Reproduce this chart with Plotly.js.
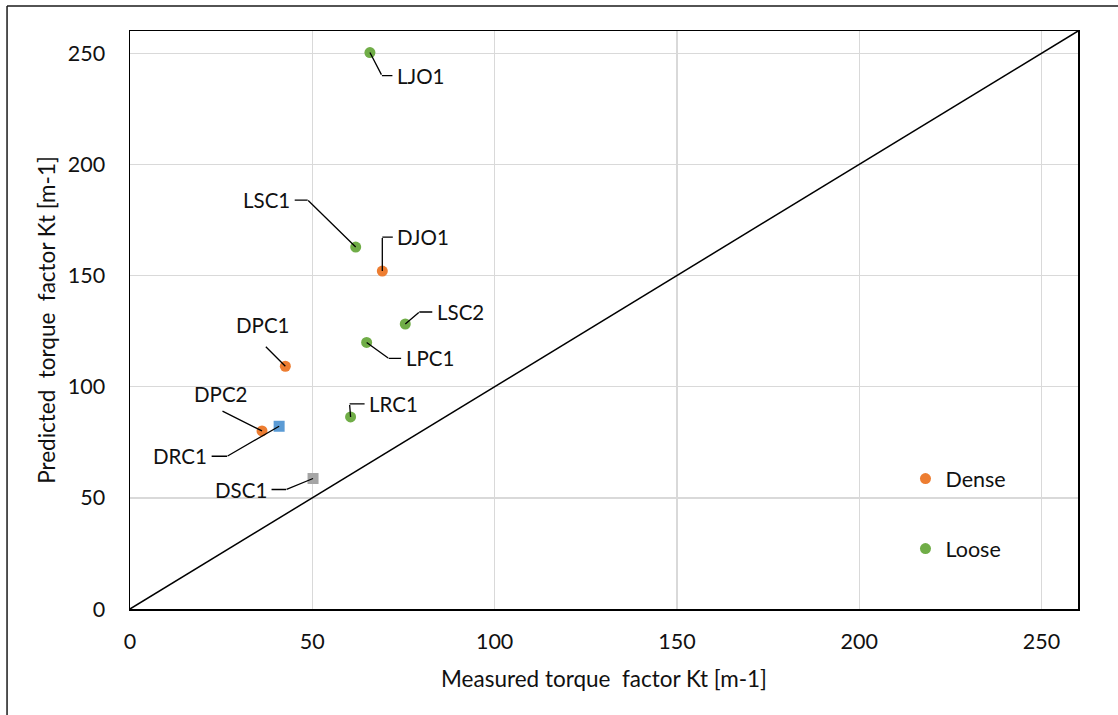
<!DOCTYPE html>
<html>
<head>
<meta charset="utf-8">
<script src="https://cdn.plot.ly/plotly-3.0.1.min.js"></script>
<style>html,body{margin:0;padding:0;background:#fff;}#chart{width:1118px;height:715px;}#chart text{white-space:pre;}</style>
</head>
<body>
<div id="chart"></div>
<script>
// ---- data ----
const denseLabels = ['DJO1', 'DPC1', 'DPC2'];
const denseX = [69.2, 42.6, 36.2];
const denseY = [152.0, 109.2, 80.1];

const looseLabels = ['LJO1', 'LSC1', 'LSC2', 'LPC1', 'LRC1'];
const looseX = [65.8, 61.9, 75.5, 64.9, 60.5];
const looseY = [250.3, 162.8, 128.2, 119.9, 86.4];

const drcLabel = ['DRC1'];
const drcX = [40.9];
const drcY = [82.2];

const dscLabel = ['DSC1'];
const dscX = [50.2];
const dscY = [58.7];

const lineX = [0, 260];
const lineY = [0, 260];

const xTicks = [0, 50, 100, 150, 200, 250];
const yTicks = [0, 50, 100, 150, 200, 250];

const xTitle = 'Measured torque  factor Kt [m-1]';
const yTitle = 'Predicted  torque  factor Kt [m-1]';

// ---- label placement (pixel offsets: elbow from point, text from elbow, stub) ----
const labelStyle = {
  DJO1: {ex: 0, ey: -34, tx: 41, ty: 0, stub: true},
  DPC1: {ex: -20, ey: -20, tx: -2, ty: -21, stub: false},
  DPC2: {ex: -40, ey: -20, tx: -1, ty: -17, stub: false},
  LJO1: {ex: 12, ey: 23, tx: 39, ty: 0, stub: true},
  LSC1: {ex: -48, ey: -47, tx: -41, ty: 0, stub: true},
  LSC2: {ex: 14, ey: -12, tx: 41, ty: 0, stub: true},
  LPC1: {ex: 22, ey: 16, tx: 41, ty: 0, stub: true},
  LRC1: {ex: -1, ey: -13, tx: 44, ty: 0, stub: true},
  DRC1: {ex: -52, ey: 30, tx: -47, ty: 0, stub: true},
  DSC1: {ex: -27, ey: 11, tx: -45, ty: 0, stub: true}
};

const FONT = 'Lato, "Open Sans", sans-serif';
const TXT = '#111111';

const traces = [
  {x: lineX, y: lineY, mode: 'lines', line: {color: '#000000', width: 1.5},
   showlegend: false, hoverinfo: 'skip'},
  {x: drcX, y: drcY, text: drcLabel, mode: 'markers', name: 'DRC1', showlegend: false,
   marker: {symbol: 'square', size: 11, color: '#5B9BD5'}},
  {x: dscX, y: dscY, text: dscLabel, mode: 'markers', name: 'DSC1', showlegend: false,
   marker: {symbol: 'square', size: 11, color: '#A5A5A5'}},
  {x: denseX, y: denseY, text: denseLabels, mode: 'markers', name: 'Dense', legendgroup: 'a',
   marker: {symbol: 'circle', size: 11, color: '#ED7D31'}},
  {x: looseX, y: looseY, text: looseLabels, mode: 'markers', name: 'Loose', legendgroup: 'b',
   marker: {symbol: 'circle', size: 11, color: '#70AD47'}}
];

const annotations = [];
function addLabels(labels, xs, ys) {
  labels.forEach((lab, i) => {
    const s = labelStyle[lab];
    annotations.push({
      x: xs[i], y: ys[i], xref: 'x', yref: 'y', text: ' ', font: {size: 1},
      showarrow: true, arrowhead: 0, arrowwidth: 1.3, arrowcolor: '#000',
      ax: s.ex, ay: s.ey, standoff: 0, borderpad: 0
    });
    if (s.stub) {
      annotations.push({
        x: xs[i], y: ys[i], xref: 'x', yref: 'y', text: lab,
        font: {family: FONT, size: 20.5, color: TXT},
        xshift: s.ex, yshift: -s.ey,
        showarrow: true, arrowhead: 0, arrowwidth: 1.3, arrowcolor: '#000',
        ax: s.tx, ay: s.ty, standoff: 0, startstandoff: 4, borderpad: 0
      });
    } else {
      annotations.push({
        x: xs[i], y: ys[i], xref: 'x', yref: 'y', text: lab,
        font: {family: FONT, size: 20.5, color: TXT},
        xshift: s.ex + s.tx, yshift: -(s.ey + s.ty), showarrow: false
      });
    }
  });
}
addLabels(denseLabels, denseX, denseY);
addLabels(looseLabels, looseX, looseY);
addLabels(drcLabel, drcX, drcY);
addLabels(dscLabel, dscX, dscY);

const layout = {
  width: 1118, height: 715,
  margin: {l: 130, r: 40, t: 31, b: 106, pad: 0},
  paper_bgcolor: '#ffffff', plot_bgcolor: '#ffffff',
  font: {family: FONT, size: 20, color: TXT},
  xaxis: {
    range: [0, 260], tickvals: xTicks, ticktext: xTicks.map(String),
    showgrid: true, gridcolor: '#d9d9d9', gridwidth: 1.3,
    zeroline: false, showline: true, mirror: true, linecolor: '#000', linewidth: 1.5,
    ticks: '', ticklabelstandoff: 13,
    tickfont: {family: FONT, size: 21.5, color: TXT},
    title: {text: xTitle, font: {family: FONT, size: 22.5, color: TXT}, standoff: 18}
  },
  yaxis: {
    range: [0, 260], tickvals: yTicks, ticktext: yTicks.map(String),
    showgrid: true, gridcolor: '#d9d9d9', gridwidth: 1.3,
    zeroline: false, showline: true, mirror: true, linecolor: '#000', linewidth: 1.5,
    ticks: '', ticklabelstandoff: 19,
    tickfont: {family: FONT, size: 21.5, color: TXT},
    title: {text: yTitle, font: {family: FONT, size: 22.5, color: TXT}, standoff: 6}
  },
  legend: {
    x: 0.818, y: 0.261, xanchor: 'left', yanchor: 'top',
    bgcolor: 'rgba(0,0,0,0)', borderwidth: 0,
    font: {family: FONT, size: 21.5, color: TXT},
    traceorder: 'grouped', tracegroupgap: 39
  },
  annotations: annotations,
  shapes: [
    {type: 'line', xref: 'paper', yref: 'paper', x0: -0.1297, x1: -0.1297, y0: -0.25, y1: 1.0433,
     line: {color: '#1a1a1a', width: 1.5}},
    {type: 'line', xref: 'paper', yref: 'paper', x0: -0.1297, x1: 1.1, y0: 1.0433, y1: 1.0433,
     line: {color: '#1a1a1a', width: 1.5}}
  ],
  showlegend: true,
  hovermode: false
};

Plotly.newPlot('chart', traces, layout, {staticPlot: true, displayModeBar: false});
</script>
</body>
</html>
